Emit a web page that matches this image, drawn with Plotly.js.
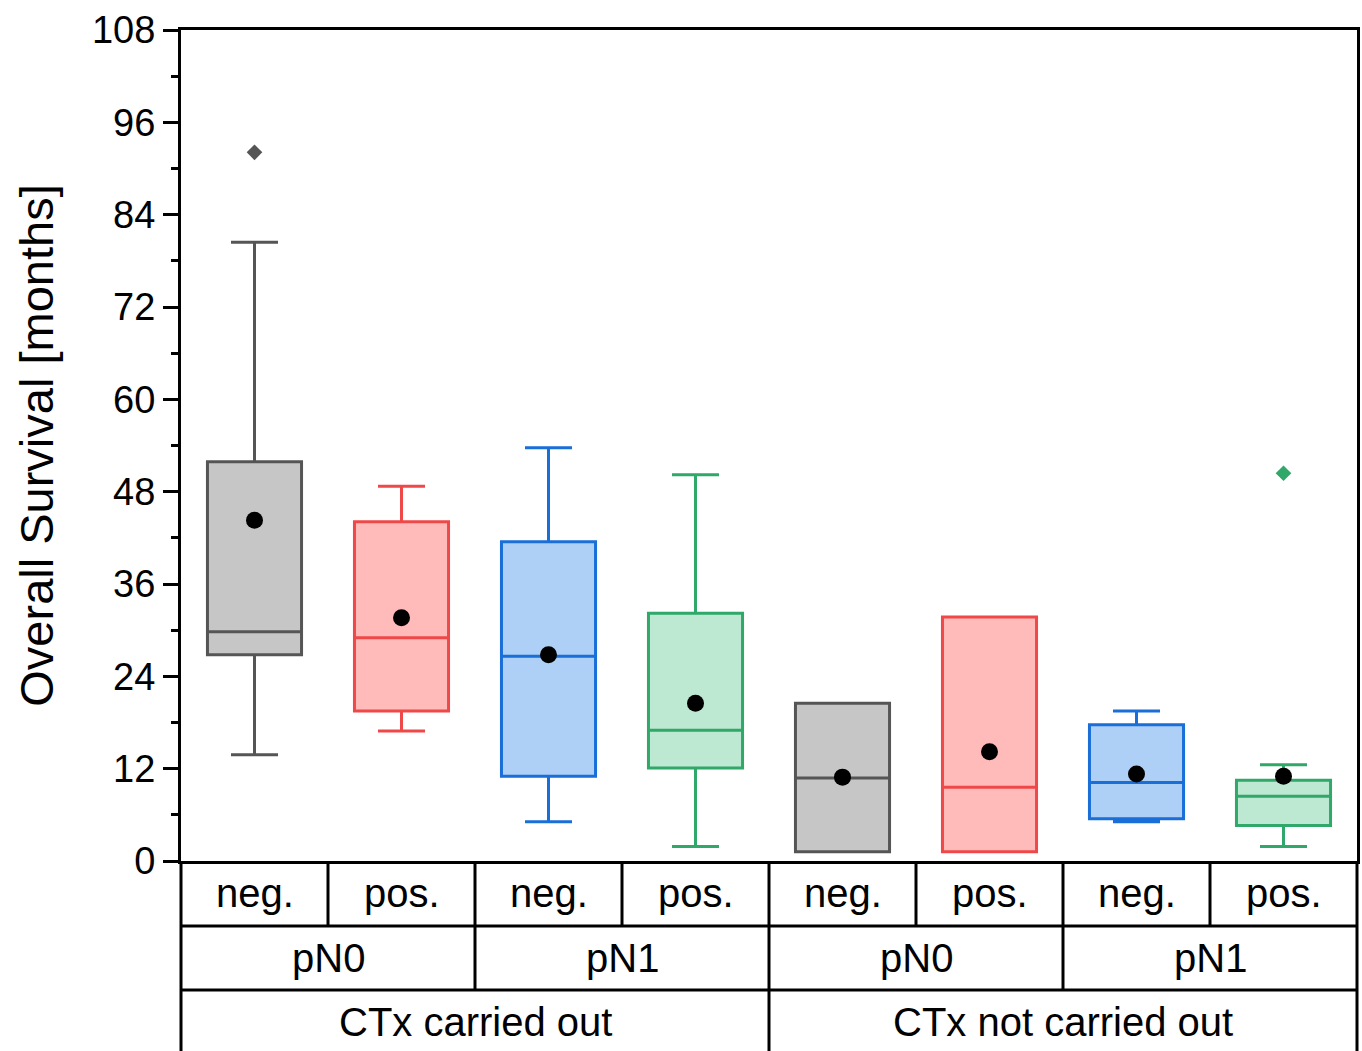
<!DOCTYPE html>
<html>
<head>
<meta charset="utf-8">
<script src="https://cdn.plot.ly/plotly-3.0.1.min.js"></script>
<style>html,body{margin:0;padding:0;background:#fff;}#chart{width:1362px;height:1051px;}</style>
</head>
<body>
<div id="chart"></div>
<script>
// ---- data ----
var markerLabels = ['neg.', 'pos.', 'neg.', 'pos.', 'neg.', 'pos.', 'neg.', 'pos.'];
var pnLabels = ['pN0', 'pN1', 'pN0', 'pN1'];
var ctxLabels = ['CTx carried out', 'CTx not carried out'];

var q1Values     = [26.8, 19.5, 11.0, 12.1, 1.2, 1.2, 5.5, 4.6];
var medianValues = [29.8, 29.0, 26.6, 17.0, 10.8, 9.6, 10.2, 8.4];
var q3Values     = [51.9, 44.1, 41.5, 32.2, 20.5, 31.7, 17.7, 10.5];
var lowerValues  = [13.8, 16.9, 5.1, 1.9, 1.2, 1.2, 5.1, 1.9];
var upperValues  = [80.4, 48.7, 53.7, 50.2, 20.5, 31.7, 19.5, 12.5];
var meanValues   = [44.3, 31.6, 26.8, 20.5, 10.9, 14.2, 11.3, 11.0];

var outlierX = [0, 7];
var outlierY = [92.1, 50.4];

// ---- styles ----
var lineColors = ['#555555', '#ef4848', '#1a6ed8', '#2fa86a'];
var fillColors = ['#c6c6c6', '#ffbaba', '#aecff6', '#bde8d1'];

var traces = [];
for (var i = 0; i < markerLabels.length; i++) {
  var c = i % 4;
  traces.push({
    type: 'box',
    x: [i],
    q1: [q1Values[i]],
    median: [medianValues[i]],
    q3: [q3Values[i]],
    lowerfence: [lowerValues[i]],
    upperfence: [upperValues[i]],
    width: 0.64,
    whiskerwidth: 0.5,
    fillcolor: fillColors[c],
    line: {color: lineColors[c], width: 3},
    boxpoints: false,
    hoverinfo: 'skip',
    showlegend: false
  });
}
var xs = markerLabels.map(function (d, i) { return i; });
traces.push({
  type: 'scatter', mode: 'markers', x: xs, y: meanValues,
  marker: {color: '#000', size: 17, symbol: 'circle'},
  showlegend: false, hoverinfo: 'skip', cliponaxis: false
});
traces.push({
  type: 'scatter', mode: 'markers', x: outlierX, y: outlierY,
  marker: {color: outlierX.map(function (x) { return lineColors[x % 4]; }), size: 12, symbol: 'diamond'},
  showlegend: false, hoverinfo: 'skip'
});

// ---- category table below axis ----
var fontFam = 'Liberation Sans, Arial, sans-serif';
var rowY = [0, -0.0782, -0.1552, -0.2286]; // paper y of table row boundaries
var shapes = [];
var annotations = [];
var blk = {color: '#000', width: 3};
// horizontal lines
[1, 2].forEach(function (r) {
  shapes.push({type: 'line', xref: 'paper', yref: 'paper', x0: 0, x1: 1, y0: rowY[r], y1: rowY[r], line: blk});
});
// outer verticals
[0, 1].forEach(function (p) {
  shapes.push({type: 'line', xref: 'paper', yref: 'paper', x0: p, x1: p, y0: 0, y1: rowY[3] - 0.01, line: blk});
});
// row 1 dividers
for (var k = 0; k < markerLabels.length - 1; k++) {
  shapes.push({type: 'line', xref: 'x', yref: 'paper', x0: k + 0.5, x1: k + 0.5, y0: rowY[0], y1: rowY[1], line: blk});
}
// row 2 dividers
for (var k2 = 1; k2 < pnLabels.length; k2++) {
  var xb = k2 * 2 - 0.5;
  shapes.push({type: 'line', xref: 'x', yref: 'paper', x0: xb, x1: xb, y0: rowY[1], y1: rowY[2], line: blk});
}
// row 3 divider
shapes.push({type: 'line', xref: 'x', yref: 'paper', x0: 3.5, x1: 3.5, y0: rowY[2], y1: rowY[3] - 0.01, line: blk});

markerLabels.forEach(function (t, i) {
  annotations.push({xref: 'x', yref: 'paper', x: i, y: (rowY[0] + rowY[1]) / 2, text: t, showarrow: false,
    font: {family: fontFam, size: 40, color: '#000'}, xanchor: 'center', yanchor: 'middle'});
});
pnLabels.forEach(function (t, i) {
  annotations.push({xref: 'x', yref: 'paper', x: i * 2 + 0.5, y: (rowY[1] + rowY[2]) / 2, text: t, showarrow: false,
    font: {family: fontFam, size: 40, color: '#000'}, xanchor: 'center', yanchor: 'middle'});
});
ctxLabels.forEach(function (t, i) {
  annotations.push({xref: 'x', yref: 'paper', x: i * 4 + 1.5, y: (rowY[2] + rowY[3]) / 2 - 0.002, text: t, showarrow: false,
    font: {family: fontFam, size: 40, color: '#000'}, xanchor: 'center', yanchor: 'middle'});
});

var layout = {
  width: 1362, height: 1051,
  margin: {l: 181, r: 5, t: 30, b: 190, pad: 0},
  paper_bgcolor: '#fff', plot_bgcolor: '#fff',
  boxmode: 'overlay',
  showlegend: false,
  font: {family: fontFam, color: '#000'},
  xaxis: {
    range: [-0.5, 7.5], showticklabels: false, ticks: '', showgrid: false, zeroline: false,
    showline: true, linecolor: '#000', linewidth: 3, mirror: true, fixedrange: true
  },
  yaxis: {
    range: [0, 108], dtick: 12, tick0: 0, ticks: 'outside', ticklen: 15, tickwidth: 3, tickcolor: '#000',
    minor: {dtick: 6, ticks: 'outside', ticklen: 7, tickwidth: 3, tickcolor: '#000'},
    showgrid: false, zeroline: false, showline: true, linecolor: '#000', linewidth: 3, mirror: true,
    tickfont: {family: fontFam, size: 38, color: '#000'},
    title: {text: 'Overall Survival [months]', font: {family: fontFam, size: 47, color: '#000'}, standoff: 24},
    fixedrange: true
  },
  shapes: shapes,
  annotations: annotations
};

Plotly.newPlot('chart', traces, layout, {staticPlot: true, displayModeBar: false});
</script>
</body>
</html>
